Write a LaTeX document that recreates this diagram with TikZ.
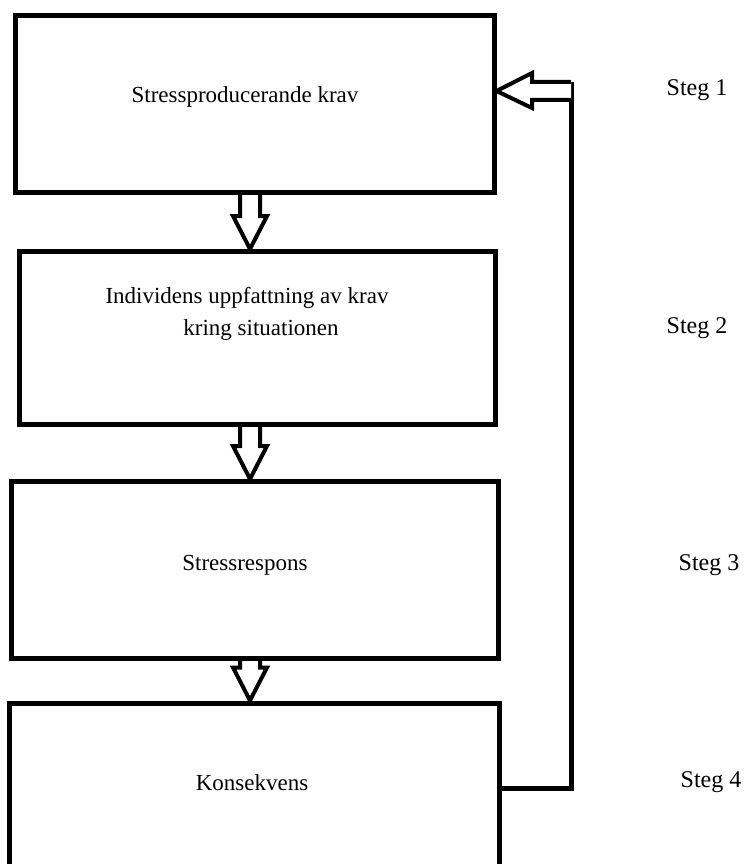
\documentclass[tikz,border=0pt]{standalone}
\usepackage{fontspec}
\setmainfont{Liberation Serif}
\usetikzlibrary{calc}
\begin{document}
\begin{tikzpicture}[x=1pt,y=-1pt,
  box/.style={draw=black,line width=5pt,fill=white,inner sep=0pt},
  arr/.style={draw=black,line width=4pt,fill=white,line join=miter},
  lbl/.style={font=\fontsize{23}{27}\selectfont,inner sep=0pt,anchor=center},
  steglbl/.style={font=\fontsize{24}{28}\selectfont,inner sep=0pt,anchor=center},
  fb/.style={draw=black,line width=5pt}]
\useasboundingbox (0,0) rectangle (747,864);
\clip (0,0) rectangle (747,864);
% boxes
\node[box,minimum width=479pt,minimum height=177pt] (b1) at (254.5,104) {};
\node[box,minimum width=476pt,minimum height=173pt] (b2) at (257,338) {};
\node[box,minimum width=487pt,minimum height=177pt] (b3) at (255,570) {};
\node[box,minimum width=490pt,minimum height=180pt] (b4) at (254.5,793) {};
% texts
\node[lbl] (t1) at (245,97) {Stressproducerande krav};
\node[lbl] (t2a) at (247,298) {Individens uppfattning av krav};
\node[lbl] (t2b) at (261,330) {kring situationen};
\node[lbl] (t3) at (245,565) {Stressrespons};
\node[lbl] (t4) at (252,783) {Konsekvens};
\node[steglbl] (s1) at (697,90) {Steg 1};
\node[steglbl] (s2) at (697,328) {Steg 2};
\node[steglbl] (s3) at (709,565) {Steg 3};
\node[steglbl] (s4) at (711,782) {Steg 4};
% hollow down arrows
\foreach \a/\b in {b1/b2,b2/b3,b3/b4}{
  \draw[arr] (240,0 |- \a.south) -- ([yshift=33pt]240,0 |- \b.north) -- ++(-7,0)
    -- (250,0 |- \b.north) -- ([yshift=33pt]267,0 |- \b.north) -- ++(-7,0)
    -- (260,0 |- \a.south);
}
% feedback line
\coordinate (fbtop) at (571,82);
\draw[fb] (b4.east |- 0,788) -- (571,788) -- (fbtop);
\draw[arr] (fbtop) -- (532,82) -- (532,73) -- (b1.east |- 0,91) -- (532,108) -- (532,100) -- (571,100);
\end{tikzpicture}
\end{document}
